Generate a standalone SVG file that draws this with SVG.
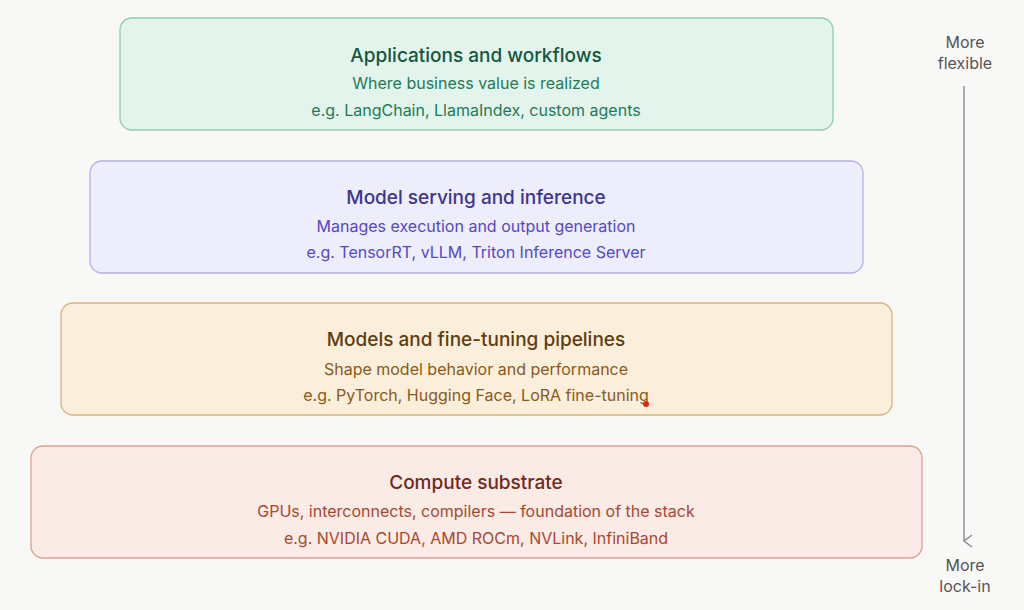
<svg xmlns="http://www.w3.org/2000/svg" width="1024" height="610" viewBox="0 0 1024 610">
<defs>
<marker id="ah" markerWidth="14" markerHeight="14" refX="7" refY="11" orient="auto" markerUnits="userSpaceOnUse">
<path d="M1,3 L7,11 L13,3" fill="none" stroke="#8a8a8a" stroke-width="1.4"/>
</marker>
</defs>
<style>
text{font-family:Inter,"Noto Sans",sans-serif;text-anchor:middle}
.t{font-size:19px;font-weight:500}
.s{font-size:16px}
.side{font-size:16px;fill:#555}
</style>
<rect width="1024" height="610" fill="#f8f8f7"/>
<g id="apps">
<rect x="120" y="18" width="713" height="112" rx="12" fill="#e2f4ec" stroke="#94c9b2" stroke-width="1.3"/>
<text class="t" x="476" y="62" fill="#14573f">Applications and workflows</text>
<text class="s" x="476" y="89" fill="#1f7a58">Where business value is realized</text>
<text class="s" x="476" y="116" fill="#1f7a58">e.g. LangChain, LlamaIndex, custom agents</text>
</g>
<g id="serving">
<rect x="90" y="161" width="773" height="112" rx="12" fill="#eeedfc" stroke="#b4b0e6" stroke-width="1.3"/>
<text class="t" x="476" y="204" fill="#3d3590">Model serving and inference</text>
<text class="s" x="476" y="232" fill="#5548c0">Manages execution and output generation</text>
<text class="s" x="476" y="258" fill="#5548c0">e.g. TensorRT, vLLM, Triton Inference Server</text>
</g>
<g id="models">
<rect x="61" y="303" width="831" height="112" rx="12" fill="#fbeedb" stroke="#d6b480" stroke-width="1.3"/>
<text class="t" x="476" y="346" fill="#5e3d0e">Models and fine-tuning pipelines</text>
<text class="s" x="476" y="375" fill="#8a5a18">Shape model behavior and performance</text>
<text class="s" x="476" y="401" fill="#8a5a18">e.g. PyTorch, Hugging Face, LoRA fine-tuning</text>
<circle cx="646" cy="404" r="3" fill="#e8211c"/>
</g>
<g id="compute">
<rect x="31" y="446" width="891" height="112" rx="12" fill="#faebe6" stroke="#dca092" stroke-width="1.3"/>
<text class="t" x="476" y="489" fill="#6e2a1a">Compute substrate</text>
<text class="s" x="476" y="517" fill="#a8482e">GPUs, interconnects, compilers — foundation of the stack</text>
<text class="s" x="476" y="544" fill="#a8482e">e.g. NVIDIA CUDA, AMD ROCm, NVLink, InfiniBand</text>
</g>
<g id="axis">
<text class="side" x="965" y="48">More</text>
<text class="side" x="965" y="69">flexible</text>
<line x1="964" y1="86" x2="964" y2="541" stroke="#8a8a8a" stroke-width="1.4" marker-end="url(#ah)"/>
<text class="side" x="965" y="571">More</text>
<text class="side" x="965" y="592">lock-in</text>
</g>
</svg>
